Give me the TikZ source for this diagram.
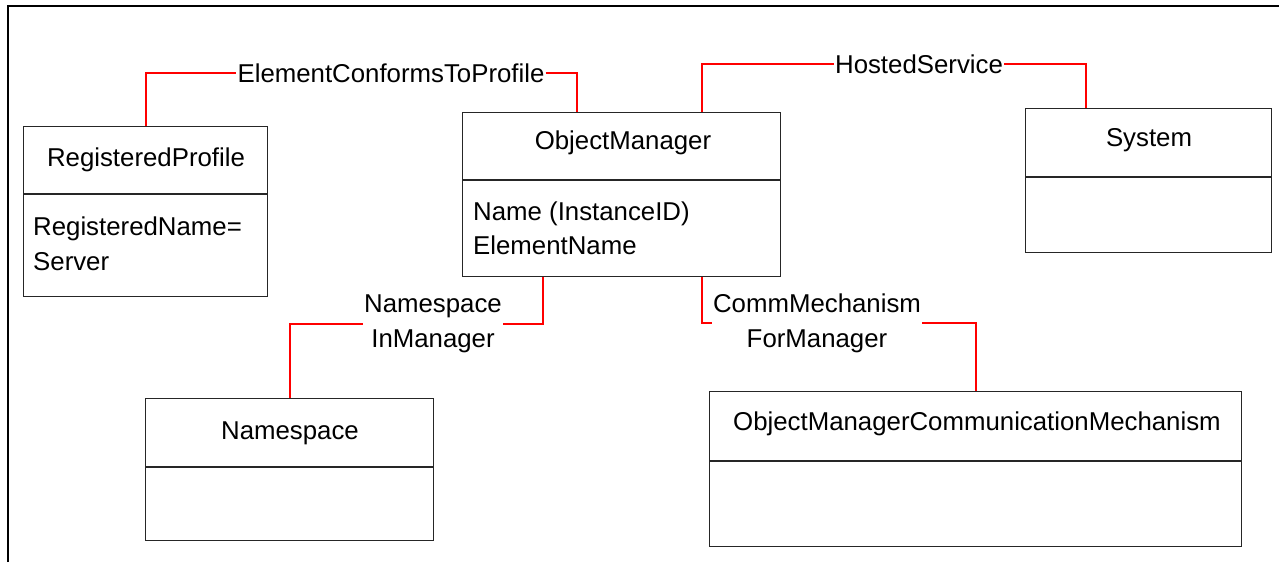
\documentclass[tikz,border=0pt]{standalone}
\usepackage{fontspec}
\setmainfont{Liberation Sans}
\usetikzlibrary{calc}
\begin{document}
\begin{tikzpicture}[x=1pt,y=-1pt,
  every node/.style={font=\fontsize{25.8}{35}\selectfont, text=black},
  box/.style={draw=black!85, line width=1.2pt, rectangle, inner sep=0pt, anchor=north west},
  divider/.style={draw=black!85, line width=1.2pt},
  conn/.style={draw=red, line width=2pt},
  lbl/.style={inner sep=1pt, align=center},
  title/.style={anchor=base, inner sep=0pt},
  attr/.style={anchor=base west, inner sep=0pt},
  frame/.style={draw=black, line width=2.6pt}]
\useasboundingbox (0,0) rectangle (1279,562);
% partial frame
\draw[frame] (8,562) -- (8,6) -- (1280,6);

% classes
\node[box, minimum width=244pt, minimum height=170pt] (rp) at (23,126) {};
\draw[divider] (rp.west |- 0,194) -- (rp.east |- 0,194);
\node[title] (rpt) at (146,166) {RegisteredProfile};
\node[attr] (rpa1) at (33,235) {RegisteredName=};
\node[attr] (rpa2) at (33,270) {Server};

\node[box, minimum width=318pt, minimum height=164pt] (om) at (462,112) {};
\draw[divider] (om.west |- 0,180) -- (om.east |- 0,180);
\node[title] (omt) at (623,149) {ObjectManager};
\node[attr] (oma1) at (473,220) {Name (InstanceID)};
\node[attr] (oma2) at (473,254) {ElementName};

\node[box, minimum width=246pt, minimum height=144pt] (sys) at (1025,108) {};
\draw[divider] (sys.west |- 0,177) -- (sys.east |- 0,177);
\node[title] (syst) at (1149,146) {System};

\node[box, minimum width=288pt, minimum height=142pt] (ns) at (145,398) {};
\draw[divider] (ns.west |- 0,467) -- (ns.east |- 0,467);
\node[title] (nst) at (290,439) {Namespace};

\node[box, minimum width=532pt, minimum height=155pt] (omcm) at (709,391) {};
\draw[divider] (omcm.west |- 0,461) -- (omcm.east |- 0,461);
\node[title] (omcmt) at (977,430) {ObjectManagerCommunicationMechanism};

% association labels
\node[lbl] (ecp) at (391,73) {ElementConformsToProfile};
\node[lbl] (hs) at (919,64) {HostedService};
\node[lbl] (nim) at (433,324) {Namespace\\InManager};
\node[lbl] (cmm) at (817,323) {CommMechanism\\ForManager};

% associations
\draw[conn] (rp.north) |- (ecp.west);
\draw[conn] (ecp.east) -| ($(om.north)+(-45,0)$);
\draw[conn] ($(om.north)+(80,0)$) |- (hs.west);
\draw[conn] (hs.east) -| ($(sys.north)+(-63,0)$);
\draw[conn] ($(om.south)+(-79,0)$) |- (nim.east);
\draw[conn] (nim.west) -| (ns.north);
\draw[conn] ($(om.south)+(80,0)$) |- (cmm.west);
\draw[conn] (cmm.east) -| (omcm.north);
\end{tikzpicture}
\end{document}
